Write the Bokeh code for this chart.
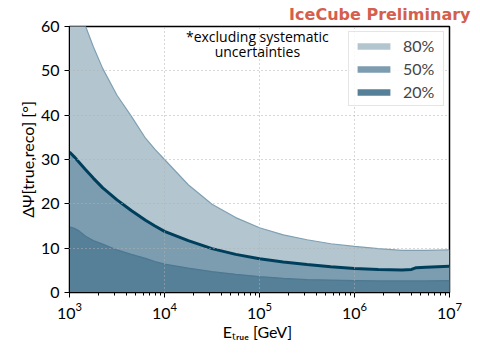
from bokeh.plotting import figure
from bokeh.models import Range1d, FixedTicker, Label, Legend, LegendItem, ColumnDataSource, Title
from bokeh.embed import file_html
from bokeh.resources import INLINE

energy_gev = [1000, 1122, 1259, 1479, 1778, 2239, 3162, 4467, 6310, 7943,
              10000, 17783, 31623, 56234, 100000, 177828, 316228, 562341,
              1000000, 1778279, 3162278, 3981072, 4466836, 5623413, 10000000]
psi_80 = [72, 68, 64.5, 60, 55.5, 50.5, 44.5, 39.8, 34.8, 32.3,
          30.0, 24.3, 19.9, 16.9, 14.6, 13.0, 11.9, 11.0,
          10.4, 9.9, 9.5, 9.5, 9.5, 9.5, 9.6]
psi_50 = [31.7, 30.6, 29.4, 27.7, 25.8, 23.6, 20.9, 18.5, 16.3, 15.0,
          13.8, 11.7, 9.9, 8.6, 7.6, 6.9, 6.3, 5.8,
          5.4, 5.2, 5.1, 5.2, 5.6, 5.7, 5.9]
psi_20 = [14.8, 14.5, 13.9, 12.7, 11.7, 10.9, 9.6, 8.6, 7.7, 7.0,
          6.4, 5.5, 4.7, 4.1, 3.6, 3.2, 2.9, 2.8,
          2.7, 2.6, 2.6, 2.6, 2.6, 2.6, 2.7]
band_labels = ["80%", "50%", "20%"]
y_ticks = [0, 10, 20, 30, 40, 50, 60]

src = ColumnDataSource(dict(e=energy_gev, q80=psi_80, q50=psi_50, q20=psi_20,
                            zero=[0] * len(energy_gev)))

FONT = "Lato"

p = figure(width=472, height=352, x_axis_type="log",
           x_range=Range1d(1e3, 1e7), y_range=Range1d(0, 60),
           output_backend="svg", toolbar_location=None,
           min_border_left=69, min_border_right=23,
           min_border_top=25, min_border_bottom=60)
p.background_fill_color = "white"
p.border_fill_color = "white"
p.outline_line_color = "black"
p.outline_line_width = 1.5

p.title = Title(text="IceCube Preliminary", align="right", offset=-21,
                standoff=5, text_font="DejaVu Sans", text_font_size="16px",
                text_font_style="bold", text_color="#d45f4e")

c80, c50, c20 = "#b3c6d0", "#7c9db0", "#567f98"
r80 = p.varea(x="e", y1="zero", y2="q80", source=src, fill_color=c80)
p.line(x="e", y="q80", source=src, line_color="#7fa0b3", line_width=1.2)
r50 = p.varea(x="e", y1="zero", y2="q50", source=src, fill_color=c50)
r20 = p.varea(x="e", y1="zero", y2="q20", source=src, fill_color=c20)
p.line(x="e", y="q20", source=src, line_color="#4d7891", line_width=1.2)
p.line(x="e", y="q50", source=src, line_color="#003f5c", line_width=3)

p.xgrid.grid_line_color = "#b0b0b0"
p.ygrid.grid_line_color = "#b0b0b0"
p.xgrid.grid_line_dash = "1 3"
p.ygrid.grid_line_dash = "1 3"
p.grid.level = "overlay"

p.yaxis.ticker = FixedTicker(ticks=y_ticks)
for ax in (p.xaxis[0], p.yaxis[0]):
    ax.major_tick_in = 0
    ax.major_tick_out = 5
    ax.minor_tick_in = 0
    ax.minor_tick_out = 3
    ax.axis_line_color = "black"
    ax.major_tick_line_color = "black"
    ax.minor_tick_line_color = "black"
    ax.major_label_text_font = FONT
    ax.major_label_text_font_size = "16px"
    ax.major_label_text_color = "black"
    ax.axis_label_text_font = FONT
    ax.axis_label_text_font_size = "16px"
    ax.axis_label_text_font_style = "normal"
    ax.axis_label_text_color = "black"
p.yaxis.minor_tick_line_color = None
p.xaxis.axis_label = "Eₜᵣᵤₑ  [GeV]"
p.yaxis.axis_label = "ΔΨ[true,reco] [°]"
p.xaxis.axis_label_standoff = 0
p.yaxis.axis_label_standoff = 1

legend = Legend(items=[LegendItem(label=band_labels[0], renderers=[r80]),
                       LegendItem(label=band_labels[1], renderers=[r50]),
                       LegendItem(label=band_labels[2], renderers=[r20])],
                location="top_right", margin=5)
legend.glyph_width = 41
legend.glyph_height = 8
legend.label_text_font = FONT
legend.label_text_font_size = "16px"
legend.label_height = 18
legend.label_width = 36
legend.label_standoff = 9
legend.spacing = 4
legend.padding = 4
legend.border_line_color = "#cccccc"
legend.border_line_width = 1.5
legend.background_fill_alpha = 0.85
p.add_layout(legend)

note1 = Label(x=9.5e4, y=60, y_offset=0,
              text="*excluding systematic", text_align="center",
              text_baseline="top", text_font="Open Sans", text_font_size="14px",
              text_color="black")
note2 = Label(x=9.5e4, y=60, y_offset=-15,
              text="uncertainties", text_align="center",
              text_baseline="top", text_font="Open Sans", text_font_size="14px",
              text_color="black")
p.add_layout(note1)
p.add_layout(note2)

open("out.html", "w").write(file_html(p, INLINE))
